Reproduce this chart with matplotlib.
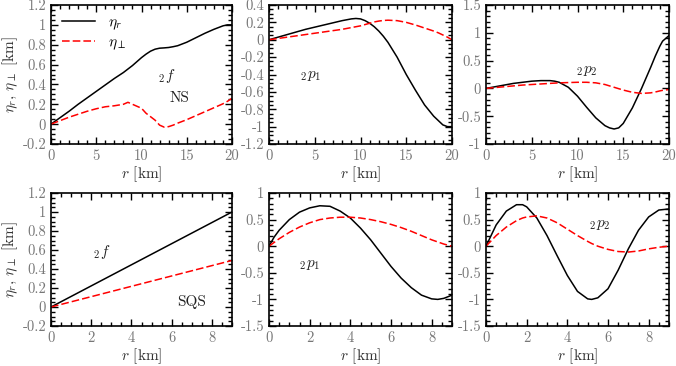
import numpy as np
import matplotlib
matplotlib.use("Agg")
import matplotlib.pyplot as plt
from matplotlib.ticker import MultipleLocator, FuncFormatter

plt.rcParams['font.family'] = 'serif'
plt.rcParams['font.serif'] = ['cmr10', 'DejaVu Serif']
plt.rcParams['mathtext.fontset'] = 'cm'
plt.rcParams['axes.unicode_minus'] = False

# ---- NS star, r in km (0-20) ----
ns_f_r = [0, 1, 2, 3, 4, 5, 6, 7, 8, 8.5, 9, 10, 10.5, 11, 11.5, 12, 12.5, 13, 13.5, 14, 15, 16, 17, 18, 19, 19.5, 20]
ns_f_eta_r = [0, 0.065, 0.13, 0.2, 0.265, 0.33, 0.395, 0.46, 0.52, 0.555, 0.59, 0.67, 0.705, 0.735, 0.755, 0.765, 0.768, 0.772, 0.78, 0.79, 0.825, 0.87, 0.915, 0.955, 0.99, 1.0, 1.0]
ns_f_eta_t = [0, 0.035, 0.07, 0.1, 0.13, 0.155, 0.175, 0.185, 0.2, 0.22, 0.2, 0.16, 0.11, 0.075, 0.04, -0.01, -0.03, -0.025, -0.01, 0.01, 0.045, 0.085, 0.125, 0.165, 0.205, 0.23, 0.26]

ns_p1_r = [0, 1, 2, 3, 4, 5, 6, 7, 8, 9, 9.5, 10, 10.5, 11, 11.5, 12, 12.5, 13, 14, 15, 16, 17, 18, 18.5, 19, 19.5, 20]
ns_p1_eta_r = [0, 0.03, 0.06, 0.09, 0.12, 0.145, 0.17, 0.195, 0.22, 0.24, 0.245, 0.24, 0.22, 0.19, 0.15, 0.1, 0.04, -0.03, -0.2, -0.4, -0.58, -0.75, -0.88, -0.93, -0.98, -1.0, -1.0]
ns_p1_eta_t = [0, 0.015, 0.03, 0.045, 0.06, 0.075, 0.09, 0.105, 0.12, 0.14, 0.15, 0.16, 0.175, 0.19, 0.205, 0.215, 0.222, 0.225, 0.22, 0.2, 0.17, 0.135, 0.1, 0.08, 0.055, 0.03, 0.0]

ns_p2_r = [0, 1, 2, 3, 4, 5, 6, 7, 7.5, 8, 9, 10, 11, 12, 13, 13.5, 14, 14.5, 15, 16, 17, 18, 18.5, 19, 19.3, 20]
ns_p2_eta_r = [0, 0.03, 0.06, 0.09, 0.11, 0.13, 0.14, 0.14, 0.13, 0.11, 0.02, -0.14, -0.34, -0.53, -0.67, -0.71, -0.73, -0.71, -0.63, -0.35, 0.0, 0.38, 0.58, 0.76, 0.85, 0.95]
ns_p2_eta_t = [0, 0.015, 0.03, 0.045, 0.06, 0.07, 0.08, 0.09, 0.095, 0.1, 0.105, 0.11, 0.11, 0.1, 0.07, 0.045, 0.02, -0.005, -0.03, -0.07, -0.09, -0.08, -0.065, -0.045, -0.035, -0.02]

# ---- SQS star, r in km (0-9) ----
sqs_f_r = [0, 9]
sqs_f_eta_r = [0, 1.0]
sqs_f_eta_t = [0, 0.49]

sqs_p1_r = [0, 0.25, 0.5, 1, 1.5, 2, 2.5, 3, 3.5, 4, 4.5, 5, 5.5, 6, 6.5, 7, 7.5, 8, 8.3, 8.6, 9]
sqs_p1_eta_r = [0, 0.17, 0.3, 0.5, 0.64, 0.72, 0.76, 0.75, 0.66, 0.53, 0.34, 0.12, -0.13, -0.38, -0.6, -0.78, -0.92, -0.99, -1.0, -0.98, -0.92]
sqs_p1_eta_t = [0, 0.07, 0.14, 0.26, 0.36, 0.44, 0.5, 0.53, 0.545, 0.545, 0.53, 0.5, 0.46, 0.41, 0.35, 0.28, 0.2, 0.12, 0.08, 0.04, 0.0]

sqs_p2_r = [0, 0.25, 0.5, 1, 1.5, 1.8, 2, 2.5, 3, 3.5, 4, 4.5, 5, 5.2, 5.5, 6, 6.5, 7, 7.5, 8, 8.5, 9]
sqs_p2_eta_r = [0, 0.2, 0.4, 0.66, 0.78, 0.78, 0.74, 0.53, 0.2, -0.18, -0.55, -0.85, -0.99, -1.0, -0.97, -0.8, -0.45, -0.05, 0.3, 0.55, 0.68, 0.7]
sqs_p2_eta_t = [0, 0.1, 0.2, 0.36, 0.48, 0.53, 0.55, 0.57, 0.53, 0.44, 0.32, 0.2, 0.09, 0.05, 0.0, -0.06, -0.1, -0.11, -0.09, -0.05, -0.02, 0.0]

panels = [
    # r, eta_r, eta_perp, xlim, ylim, xmaj, xmin, ymaj, ymin, labels
    (ns_f_r, ns_f_eta_r, ns_f_eta_t, (0, 20), (-0.2, 1.2), 5, 1, 0.2, 0.05,
     [(12.8, 0.48, r'$_2f$'), (14.2, 0.26, 'NS')]),
    (ns_p1_r, ns_p1_eta_r, ns_p1_eta_t, (0, 20), (-1.2, 0.4), 5, 1, 0.2, 0.05,
     [(4.5, -0.42, r'$_2p_1$')]),
    (ns_p2_r, ns_p2_eta_r, ns_p2_eta_t, (0, 20), (-1, 1.5), 5, 1, 0.5, 0.1,
     [(11.0, 0.32, r'$_2p_2$')]),
    (sqs_f_r, sqs_f_eta_r, sqs_f_eta_t, (0, 9), (-0.2, 1.2), 2, 0.5, 0.2, 0.05,
     [(2.5, 0.58, r'$_2f$'), (7.0, 0.05, 'SQS')]),
    (sqs_p1_r, sqs_p1_eta_r, sqs_p1_eta_t, (0, 9), (-1.5, 1), 2, 0.5, 0.5, 0.1,
     [(2.0, -0.35, r'$_2p_1$')]),
    (sqs_p2_r, sqs_p2_eta_r, sqs_p2_eta_t, (0, 9), (-1.5, 1), 2, 0.5, 0.5, 0.1,
     [(5.6, 0.4, r'$_2p_2$')]),
]

W, H = 676, 366
fig = plt.figure(figsize=(W / 100, H / 100), dpi=100)

lefts = [51, 269, 486]
widths = [181, 183, 183]
rows = [(5, 144), (193, 326)]

fmt = FuncFormatter(lambda v, p: ('%g' % round(v, 6)).replace('\u2212', '-'))

for i, (r, er, et, xl, yl, xmaj, xmin, ymaj, ymin, labels) in enumerate(panels):
    row, col = divmod(i, 3)
    top, bot = rows[row]
    ax = fig.add_axes([lefts[col] / W, 1 - bot / H, widths[col] / W, (bot - top) / H])
    ax.plot(r, er, color='black', lw=1.1, label=r'$\eta_r$')
    ax.plot(r, et, color='red', lw=1.1, ls=(0, (5, 2)), label=r'$\eta_\perp$')
    ax.set_xlim(*xl)
    ax.set_ylim(*yl)
    ax.xaxis.set_major_locator(MultipleLocator(xmaj))
    ax.xaxis.set_minor_locator(MultipleLocator(xmin))
    ax.yaxis.set_major_locator(MultipleLocator(ymaj))
    ax.yaxis.set_minor_locator(MultipleLocator(ymin))
    ax.xaxis.set_major_formatter(fmt)
    ax.yaxis.set_major_formatter(fmt)
    ax.tick_params(which='both', direction='in', top=True, right=True,
                   labelsize=10.5, labelcolor='#777777', width=1.0)
    ax.tick_params(which='major', length=5)
    ax.tick_params(which='minor', length=3)
    for s in ax.spines.values():
        s.set_linewidth(1.2)
    ax.set_xlabel(r'$r$ [km]', fontsize=11, labelpad=1, color='#333333')
    if col == 0:
        ax.set_ylabel(r'$\eta_r$, $\eta_\perp$ [km]', fontsize=11, labelpad=2, color='#333333')
    for x, y, t in labels:
        ax.text(x, y, t, fontsize=11, ha='center', va='center', color='#222222')
    if i == 0:
        ax.legend(loc='upper left', frameon=False, fontsize=11, handlelength=2.2,
                  borderaxespad=0.3, labelspacing=0.2)

fig.savefig('out.png', dpi=100)
